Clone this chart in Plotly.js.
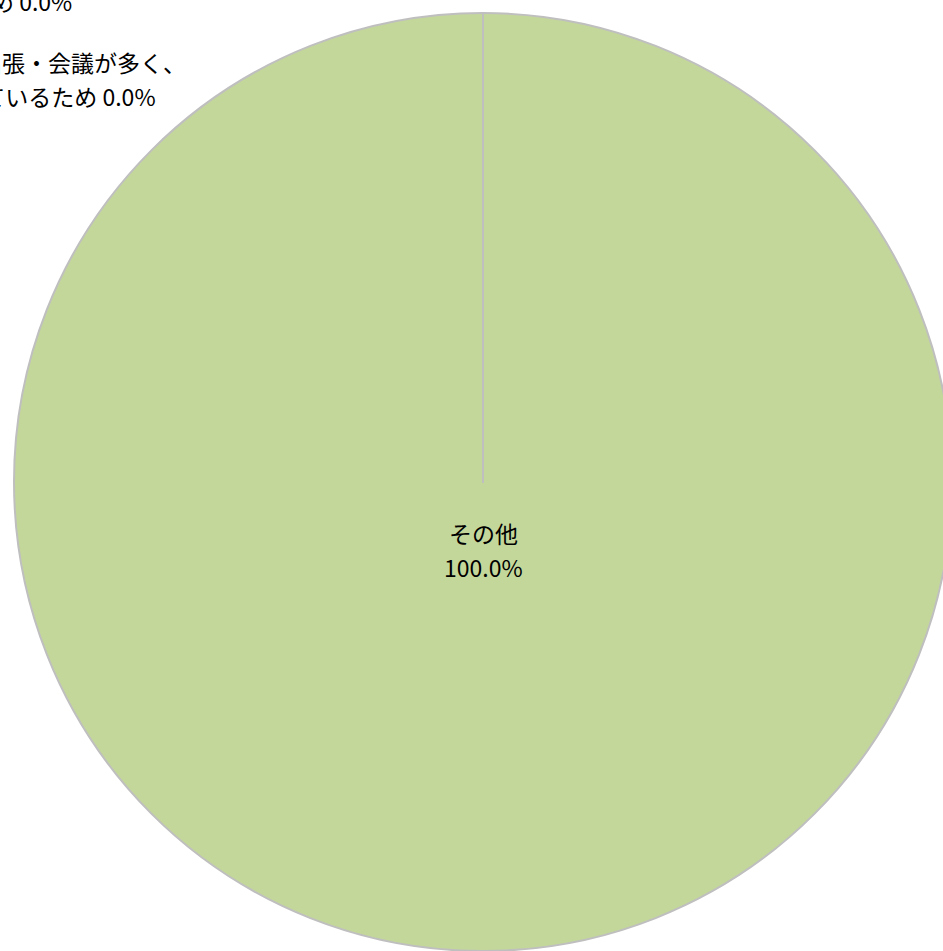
<!DOCTYPE html>
<html>
<head>
<meta charset="utf-8">
<script src="https://cdn.plot.ly/plotly-3.0.1.min.js"></script>
<style>
html,body{margin:0;padding:0;overflow:hidden;background:#fff;width:943px;height:951px;}
#chart{width:966px;height:966px;}
</style>
</head>
<body>
<div id="chart"></div>
<script>
// Data
const labels = ["その他", "出張・会議が多く、時間が限られているため", "業務が多忙なため"];
const values = [100, 0, 0];
// label line breaks for display
const labelLines = [["その他"], ["出張・会議が多く、", "時間が限られているため"], ["業務が多忙なため"]];

const W = 966, H = 966;
const cx = 483, cy = 482, r = 469;
const px = x => x / W;
const py = y => 1 - y / H;

const total = values.reduce((a, b) => a + b, 0);
const pctText = v => (v / total * 100).toFixed(1) + "%";

const font = {family: "Noto Sans CJK JP, sans-serif", size: 23, color: "#000"};

// label placement (right edge / center of each line, in px)
const placements = [
  {anchor: "center", lines: [[cx, 533], [cx, 567]]},
  {anchor: "right", lines: [[188, 62], [158, 96]]},
  {anchor: "right", lines: [[74, 1]]}
];

const annotations = [];
labels.forEach((lab, i) => {
  const lines = labelLines[i].slice();
  if (i === 0) {
    lines.push(pctText(values[i]));
  } else {
    lines[lines.length - 1] += " " + pctText(values[i]);
  }
  lines.forEach((t, j) => {
    const p = placements[i].lines[j];
    annotations.push({
      text: t, x: px(p[0]), y: py(p[1]), xref: "paper", yref: "paper",
      xanchor: placements[i].anchor, yanchor: "middle", showarrow: false, font: font
    });
  });
});

const trace = {
  type: "pie",
  labels: labels,
  values: values,
  sort: false,
  direction: "clockwise",
  rotation: 0,
  textinfo: "none",
  marker: {colors: ["#c4d79b", "#c4d79b", "#c4d79b"], line: {color: "#bfbfbf", width: 2}},
  domain: {x: [px(cx - r), px(cx + r)], y: [py(cy + r), py(cy - r)]},
  showlegend: false,
  hoverinfo: "label+percent"
};

const layout = {
  width: W, height: H,
  margin: {l: 0, r: 0, t: 0, b: 0, pad: 0},
  paper_bgcolor: "#fff",
  showlegend: false,
  annotations: annotations,
  shapes: [{type: "line", xref: "paper", yref: "paper", x0: px(cx), x1: px(cx), y0: py(cy - r), y1: py(cy), line: {color: "#bfbfbf", width: 2}}]
};

Plotly.newPlot("chart", [trace], layout, {displayModeBar: false, staticPlot: true});
</script>
</body>
</html>
